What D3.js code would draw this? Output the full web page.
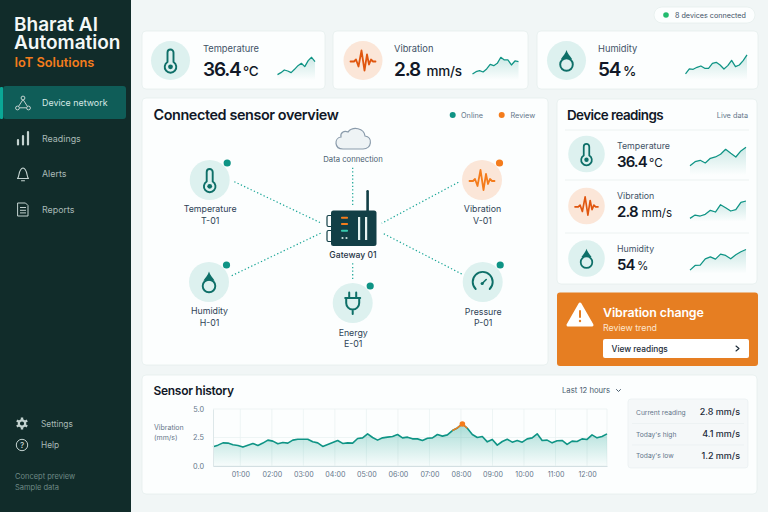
<!DOCTYPE html>
<html>
<head>
<meta charset="utf-8">
<script src="https://d3js.org/d3.v7.min.js"></script>
<style>
  html, body { margin: 0; padding: 0; background: #f1f6f6; }
  svg { display: block; font-family: Inter, "Noto Sans", sans-serif; }
</style>
</head>
<body>
<div id="chart"></div>
<script>
const width = 768, height = 512;

// nav
const navItems = ["Device network", "Readings", "Alerts", "Reports"];
const footItems = ["Settings", "Help"];

// KPI cards
const kpiLabels = ["Temperature", "Vibration", "Humidity"];
const kpiValues = ["36.4", "2.8", "54"];
const kpiUnits = ["°C", "mm/s", "%"];

// sparklines, relative height 0-80
const sparkTempTop = [16, 22, 30, 27, 22, 32, 43, 50, 40, 58, 68, 55];
const sparkVibTop = [18, 25, 28, 24, 33, 47, 43, 50, 68, 60, 60, 45, 57, 55];
const sparkHumTop = [18, 33, 32, 38, 42, 35, 35, 50, 53, 45, 33, 43, 59, 40, 45, 58, 75];
const sparkTempSide = [28, 40, 44, 36, 50, 54, 62, 77, 65, 54, 72, 83];
const sparkVibSide = [10, 20, 17, 22, 34, 29, 51, 42, 32, 36, 58, 62];
const sparkHumSide = [10, 24, 25, 44, 50, 43, 58, 54, 44, 56, 65, 72];

// sensor network
const sensorNames = ["Temperature", "Vibration", "Humidity", "Pressure", "Energy"];
const sensorIds = ["T-01", "V-01", "H-01", "P-01", "E-01"];
const sensorStatus = ["online", "review", "online", "online", "online"];

// history, mm/s, one reading about every 9.5 minutes
const historyValues = [1.69, 1.83, 2.03, 2.01, 1.86, 1.80, 1.66, 1.83, 1.98, 1.80,
  2.01, 2.27, 2.18, 1.95, 2.06, 2.01, 2.27, 2.35, 2.35, 2.35,
  2.12, 2.03, 1.72, 1.89, 2.06, 2.24, 1.98, 2.03, 2.01, 2.41,
  2.47, 2.82, 2.50, 2.27, 2.47, 2.53, 2.59, 2.76, 2.47, 2.53,
  2.38, 2.38, 2.24, 2.44, 2.47, 2.76, 2.62, 2.73, 3.11, 3.34,
  3.69, 3.31, 2.76, 2.50, 2.59, 2.12, 2.33, 1.83, 2.15, 2.35,
  2.09, 2.24, 2.09, 2.38, 2.47, 2.82, 2.24, 2.27, 2.03, 2.21,
  2.24, 1.89, 2.18, 2.15, 2.38, 2.33, 2.73, 2.47, 2.59, 2.82];
const peakIndex = 50;
const yTicks = [0, 2.5, 5];
const xTickHours = [1, 2, 3, 4, 5, 6, 7, 8, 9, 10, 11, 12];
const statLabels = ["Current reading", "Today's high", "Today's low"];
const statValues = ["2.8 mm/s", "4.1 mm/s", "1.2 mm/s"];

const teal = "#0f9485", tealDark = "#0e6f68", orange = "#f47c1c", orangeRed = "#e0560f";
const ink = "#111827", slate = "#3f5266", muted = "#64768a";

const svg = d3.select("#chart").append("svg")
  .attr("width", width).attr("height", height)
  .attr("viewBox", [0, 0, width, height]);

const defs = svg.append("defs");
const fade = defs.append("linearGradient").attr("id", "sparkFill")
  .attr("x1", 0).attr("x2", 0).attr("y1", 0).attr("y2", 1);
fade.append("stop").attr("offset", 0).attr("stop-color", teal).attr("stop-opacity", 0.2);
fade.append("stop").attr("offset", 1).attr("stop-color", teal).attr("stop-opacity", 0);
const fade2 = defs.append("linearGradient").attr("id", "historyFill")
  .attr("x1", 0).attr("x2", 0).attr("y1", 0).attr("y2", 1);
fade2.append("stop").attr("offset", 0).attr("stop-color", "#12a08f").attr("stop-opacity", 0.36);
fade2.append("stop").attr("offset", 1).attr("stop-color", "#12a08f").attr("stop-opacity", 0.02);

const text = (g, x, y, str, size, fill, weight = 400, anchor = "start", spacing = 0) =>
  g.append("text").attr("x", x).attr("y", y).attr("font-size", size)
    .attr("fill", fill).attr("font-weight", weight).attr("text-anchor", anchor)
    .attr("letter-spacing", spacing).text(str);

const panel = (x0, y0, x1, y1, r = 4, fill = "#fcfefe") =>
  svg.append("rect").attr("x", x0).attr("y", y0).attr("width", x1 - x0).attr("height", y1 - y0)
    .attr("rx", r).attr("fill", fill).attr("stroke", "#e6efee").attr("stroke-width", 0.8);

// icons are drawn on a 24x24 box centred on 0,0
const line = (g, d, color, w = 1.8) => g.append("path").attr("d", d).attr("fill", "none")
  .attr("stroke", color).attr("stroke-width", w).attr("stroke-linecap", "round").attr("stroke-linejoin", "round");

const icons = {
  Temperature(g, c) {
    line(g, "M-3,1.5 V-8 A3,3 0 0 1 3,-8 V1.5 A5.8,5.8 0 1 1 -3,1.5 Z", c, 1.9);
    g.append("circle").attr("cy", 6.3).attr("r", 2.4).attr("fill", c);
  },
  Vibration(g, c) {
    line(g, "M-12.5,1 H-9 L-7,-1 L-4.5,6 L-1.5,-10 L1.5,10 L4,-6 L6,4 L8,-1 L10,1 H12.5", c, 1.8);
  },
  Humidity(g, c) {
    g.append("circle").attr("cy", 4).attr("r", 6.3).attr("fill", "none").attr("stroke", c).attr("stroke-width", 1.9);
    g.append("path").attr("d", "M0,-10.5 C1,-7 3.5,-4.5 5.5,-1.5 L-5.5,-1.5 C-3.5,-4.5 -1,-7 0,-10.5 Z").attr("fill", c);
  },
  Pressure(g, c) {
    line(g, "M-7,7 A10,10 0 1 1 7,7", c, 1.9);
    line(g, "M-0.5,1.5 L3.5,-2.5", c, 1.6);
    g.append("circle").attr("cx", -0.5).attr("cy", 1.5).attr("r", 1.6).attr("fill", c);
  },
  Energy(g, c) {
    line(g, "M-3.5,-10.5 V-5 M3.5,-10.5 V-5 M-7.5,-5 H7.5 M-6.5,-5 V0 A6.5,6.5 0 0 0 6.5,0 V-5 M0,6.5 V11", c, 2);
  }
};

// sidebar
svg.append("rect").attr("width", 131).attr("height", height).attr("fill", "#112c2a");
const brand = svg.append("text").attr("font-size", 19).attr("font-weight", 600).attr("fill", "#f4f8f7");
brand.append("tspan").attr("x", 14).attr("y", 30.5).text("Bharat AI");
brand.append("tspan").attr("x", 14).attr("y", 48.5).text("Automation");
text(svg, 14.5, 67, "IoT Solutions", 12.8, orange, 600);

svg.append("rect").attr("x", 3).attr("y", 86).attr("width", 123).attr("height", 33).attr("rx", 3).attr("fill", "#0f5d58");
svg.append("rect").attr("x", 0).attr("y", 87).attr("width", 3).attr("height", 32).attr("rx", 1).attr("fill", "#0aa896");

const navY = d3.scalePoint().domain(navItems).range([103, 209.5]);
navItems.forEach((name, i) => {
  text(svg, 42, navY(name) + 3.2, name, 8.9, i === 0 ? "#d5e9e6" : "#a9bab7");
});
const navStroke = "#c4d3d0";
const nav0 = svg.append("g").attr("transform", "translate(23,103)");
line(nav0, "M0,-3.5 L-4.5,3.5 M0,-3.5 L4.5,3.5 M-3,4.8 H3", navStroke, 1);
[[0, -5], [-5.5, 5], [5.5, 5]].forEach(p => nav0.append("circle").attr("cx", p[0]).attr("cy", p[1]).attr("r", 1.9)
  .attr("fill", "#0f5d58").attr("stroke", navStroke).attr("stroke-width", 1));
const nav1 = svg.append("g").attr("transform", "translate(23,138)");
line(nav1, "M-5,6.5 V2 M0,6.5 V-2 M5,6.5 V-6", navStroke, 2.2);
const nav2 = svg.append("g").attr("transform", "translate(23,174)");
line(nav2, "M-5.5,4.5 C-3.5,3 -4.5,-5.5 0,-6 C4.5,-5.5 3.5,3 5.5,4.5 Z M-1.5,6.8 H1.5", navStroke, 1.1);
const nav3 = svg.append("g").attr("transform", "translate(23,209.5)");
line(nav3, "M-5,-6.5 H2.5 L5,-4 V6.5 H-5 Z M-2.6,-2 H2.6 M-2.6,0.8 H2.6 M-2.6,3.4 H2.6", navStroke, 1);

const footY = [423.5, 445];
footItems.forEach((name, i) => text(svg, 41, footY[i] + 3, name, 8.3, "#a9bab7"));
const gear = svg.append("g").attr("transform", `translate(22,${footY[0]})`);
gear.append("circle").attr("r", 3.2).attr("fill", "none").attr("stroke", navStroke).attr("stroke-width", 2.2);
d3.range(6).forEach(i => gear.append("rect").attr("x", -1.2).attr("y", -6).attr("width", 2.4).attr("height", 2.4)
  .attr("fill", navStroke).attr("transform", `rotate(${i * 60})`));
const helpIcon = svg.append("g").attr("transform", `translate(22,${footY[1]})`);
helpIcon.append("circle").attr("r", 5.7).attr("fill", "none").attr("stroke", navStroke).attr("stroke-width", 1);
text(helpIcon, 0, 3, "?", 8, navStroke, 500, "middle");
text(svg, 15, 479, "Concept preview", 7.5, "#6f8a86");
text(svg, 15, 490, "Sample data", 7.5, "#6f8a86");

// connected pill
svg.append("rect").attr("x", 654).attr("y", 7).attr("width", 101).attr("height", 16).attr("rx", 8)
  .attr("fill", "#fcfefe").attr("stroke", "#e6efee").attr("stroke-width", 0.8);
svg.append("circle").attr("cx", 666).attr("cy", 15).attr("r", 2.8).attr("fill", "#22bb6e");
text(svg, 675, 17.7, "8 devices connected", 7.2, "#3f5266");

const spark = (values, x0, x1, base) => {
  const x = d3.scaleLinear().domain([0, values.length - 1]).range([x0, x1]);
  const y = d3.scaleLinear().domain([0, 80]).range([base, base - 26.7]);
  svg.append("path").datum(values).attr("fill", "url(#sparkFill)")
    .attr("d", d3.area().x((d, i) => x(i)).y0(base).y1(d => y(d)));
  svg.append("path").datum(values).attr("fill", "none").attr("stroke", teal).attr("stroke-width", 1.25)
    .attr("stroke-linejoin", "round")
    .attr("d", d3.line().x((d, i) => x(i)).y(d => y(d)));
};

const iconBadge = (cx, cy, r, name, scale, reviewColor = orangeRed) => {
  const review = name === "Vibration";
  svg.append("circle").attr("cx", cx).attr("cy", cy).attr("r", r).attr("fill", review ? "#fbe6d8" : "#ddf1ef");
  const g = svg.append("g").attr("transform", `translate(${cx},${cy}) scale(${scale})`);
  icons[name](g, review ? reviewColor : tealDark);
};

// KPI cards
const kpiBoxes = [[142, 325], [333, 528], [537, 758]];
const kpiCx = [170.5, 363, 566.5];
const kpiTextX = [203, 394, 598];
const kpiUnitX = [243, 426.5, 623];
kpiLabels.forEach((name, i) => {
  panel(kpiBoxes[i][0], 31, kpiBoxes[i][1], 89);
  iconBadge(kpiCx[i], 60.5, 19.5, name, 1);
  text(svg, kpiTextX[i], 52.3, name, 9.3, slate);
  text(svg, kpiTextX[i], 75.5, kpiValues[i], 19, ink, 600, "start", -1.2);
  text(svg, kpiUnitX[i], 75.5, kpiUnits[i], 13.5, ink, 500, "start", -0.2);
});
spark(sparkTempTop, 277.5, 315, 80);
spark(sparkVibTop, 472.5, 518.5, 80);
spark(sparkHumTop, 685.5, 747, 80);

// overview panel
panel(142, 98, 548, 365);
text(svg, 153.5, 120, "Connected sensor overview", 14.4, ink, 600, "start", -0.4);
svg.append("circle").attr("cx", 452.7).attr("cy", 115).attr("r", 3).attr("fill", teal);
text(svg, 461, 117.6, "Online", 7.3, muted);
svg.append("circle").attr("cx", 501.7).attr("cy", 115).attr("r", 3).attr("fill", orange);
text(svg, 510.5, 117.6, "Review", 7.3, muted);

// links gateway to sensors
const linkEnds = [
  [234.3, 181.7, 321.7, 223.3],
  [458.3, 182.3, 381.7, 223.3],
  [231.7, 275.7, 321.7, 232.7],
  [461.7, 274, 381.7, 232.7],
  [352.7, 167.7, 352.7, 206.7],
  [352.7, 263.3, 352.7, 280]
];
svg.append("g").selectAll("line").data(linkEnds).join("line")
  .attr("x1", d => d[0]).attr("y1", d => d[1]).attr("x2", d => d[2]).attr("y2", d => d[3])
  .attr("stroke", "#18a596").attr("stroke-width", 1.2).attr("stroke-dasharray", "1.3 2.3");

// nodes
const nodeCx = [209.7, 482, 209, 482.7, 352.7];
const nodeCy = [180, 180, 282, 282, 303];
const labelY = [212, 212, 314, 314.5, 335.5];
sensorNames.forEach((name, i) => {
  iconBadge(nodeCx[i], nodeCy[i], 20, name, 1, orange);
  svg.append("circle").attr("cx", nodeCx[i] + 17.5).attr("cy", nodeCy[i] - 17)
    .attr("r", 3.6).attr("fill", sensorStatus[i] === "online" ? teal : orange);
  text(svg, nodeCx[i] + 0.5, labelY[i], name, 8.8, "#2e4356", 400, "middle");
  text(svg, nodeCx[i] + 0.5, labelY[i] + 11.7, sensorIds[i], 8.8, "#2e4356", 400, "middle");
});

// cloud
const cloud = svg.append("g").attr("transform", "translate(353,139)");
cloud.append("path").attr("d", "M-10,10 H10 C19,10 20,-2 12,-3 C11,-11 0,-13 -5,-7 C-9,-9 -13,-6 -12,-2 C-19,-1 -19,10 -10,10 Z")
  .attr("fill", "#eef3f5").attr("stroke", "#8a9bab").attr("stroke-width", 1.2);
text(svg, 353, 161.5, "Data connection", 7.7, "#4a5d70", 400, "middle");

// gateway
const gw = svg.append("g");
const gwColor = "#123f46";
gw.append("rect").attr("x", 366.3).attr("y", 190).attr("width", 2.6).attr("height", 24).attr("rx", 1.2).attr("fill", gwColor);
gw.append("rect").attr("x", 327).attr("y", 215.5).attr("width", 6).attr("height", 11).attr("rx", 1.5).attr("fill", "#fcfefe").attr("stroke", gwColor).attr("stroke-width", 1.2);
gw.append("rect").attr("x", 327).attr("y", 230.5).attr("width", 6).attr("height", 11).attr("rx", 1.5).attr("fill", "#fcfefe").attr("stroke", gwColor).attr("stroke-width", 1.2);
gw.append("rect").attr("x", 331).attr("y", 210.5).attr("width", 45.5).attr("height", 35.5).attr("rx", 2.5).attr("fill", gwColor);
[[341, orange, 216.8], [341, orange, 223], [341, "#38c9ae", 229.7]].forEach(d =>
  gw.append("rect").attr("x", d[0]).attr("y", d[2]).attr("width", 7).attr("height", 2).attr("rx", 0.8).attr("fill", d[1]));
[342.5, 346.5].forEach(x => gw.append("circle").attr("cx", x).attr("cy", 238).attr("r", 1.1).attr("fill", "#cfe3e0"));
[358, 365].forEach(x => gw.append("rect").attr("x", x).attr("y", 217).attr("width", 2.2).attr("height", 23).attr("fill", "#e6f2f0"));
text(svg, 353, 258, "Gateway 01", 8.6, "#1f3344", 500, "middle");

// device readings
panel(557, 99, 757, 284);
text(svg, 567, 120, "Device readings", 13.4, ink, 600, "start", -0.55);
text(svg, 748, 117.5, "Live data", 7.3, muted, 400, "end");
[130, 180, 233].forEach(y => svg.append("line").attr("x1", 565).attr("x2", 749).attr("y1", y).attr("y2", y)
  .attr("stroke", "#e9f0ef").attr("stroke-width", 0.8));
const readCy = [154, 206, 258.5];
const readLabelY = [148.5, 199, 252];
const readValueY = [166.5, 217, 270];
const readUnitX = [649, 641.5, 637];
kpiLabels.forEach((name, i) => {
  iconBadge(586.5, readCy[i], 18.3, name, 0.92);
  text(svg, 617, readLabelY[i], name, 8.8, slate);
  text(svg, 617, readValueY[i], kpiValues[i], 15, ink, 600, "start", -0.9);
  text(svg, readUnitX[i], readValueY[i], kpiUnits[i], 11.6, ink, 400);
});
spark(sparkTempSide, 690, 746, 175);
spark(sparkVibSide, 690, 746, 221.7);
spark(sparkHumSide, 690, 746, 273.5);

// alert
svg.append("rect").attr("x", 557).attr("y", 292.5).attr("width", 201).attr("height", 73.5).attr("rx", 3).attr("fill", "#e67e22");
svg.append("path").attr("d", "M580,304 L592,325 H568 Z").attr("fill", "#fff").attr("stroke", "#fff")
  .attr("stroke-width", 3).attr("stroke-linejoin", "round");
svg.append("rect").attr("x", 579).attr("y", 310).attr("width", 2).attr("height", 8).attr("rx", 1).attr("fill", "#e67e22");
svg.append("circle").attr("cx", 580).attr("cy", 321).attr("r", 1.2).attr("fill", "#e67e22");
text(svg, 603, 316.5, "Vibration change", 12.4, "#fff", 600, "start", -0.1);
text(svg, 603, 331, "Review trend", 8.8, "#fde6d0");
svg.append("rect").attr("x", 603).attr("y", 339).attr("width", 146).attr("height", 19).attr("rx", 2).attr("fill", "#fff");
text(svg, 611.5, 351.5, "View readings", 8.3, "#1c2b38", 500);
line(svg, "M736,346 L739,348.5 L736,351", "#1c2b38", 1.1);

// history panel
panel(142, 375, 757, 494);
text(svg, 153.5, 395, "Sensor history", 12, ink, 600, "start", -0.3);
text(svg, 562, 393, "Last 12 hours", 7.7, "#4a5d70");
line(svg, "M616.5,389.5 L618.5,391.5 L620.5,389.5", "#4a5d70", 1);
text(svg, 154, 429.5, "Vibration", 7, muted);
text(svg, 154, 439.5, "(mm/s)", 7, muted);

const plot = { left: 213, right: 607, top: 409, bottom: 466 };
const hourAt = h => new Date(2024, 0, 1, h, 0);
const start = new Date(2024, 0, 1, 0, 8.7), end = new Date(2024, 0, 1, 12, 38);
const xTime = d3.scaleTime().domain([start, end]).range([plot.left, plot.right]);
const yVib = d3.scaleLinear().domain([0, 5]).range([plot.bottom, plot.top]);
const xIndex = d3.scaleLinear().domain([0, historyValues.length - 1]).range([start, end].map(xTime));

const grid = svg.append("g").attr("stroke", "#e8f0f1").attr("stroke-width", 0.7);
grid.selectAll(".gx").data(xTickHours).join("line").attr("class", "gx")
  .attr("x1", d => xTime(hourAt(d))).attr("x2", d => xTime(hourAt(d)))
  .attr("y1", plot.top).attr("y2", plot.bottom);
grid.selectAll(".gy").data(yTicks).join("line").attr("class", "gy")
  .attr("x1", plot.left).attr("x2", plot.right).attr("y1", d => yVib(d)).attr("y2", d => yVib(d));
grid.append("line").attr("x1", plot.right).attr("x2", plot.right).attr("y1", plot.top).attr("y2", plot.bottom);

svg.append("path").datum(historyValues).attr("fill", "url(#historyFill)")
  .attr("d", d3.area().x((d, i) => xIndex(i)).y0(plot.bottom).y1(d => yVib(d)));
const historyLine = d3.line().x(d => xIndex(d[0])).y(d => yVib(d[1]));
const indexed = historyValues.map((v, i) => [i, v]);
svg.append("path").datum(indexed).attr("fill", "none").attr("stroke", teal).attr("stroke-width", 1.6)
  .attr("stroke-linejoin", "round").attr("d", historyLine);
svg.append("path").datum(indexed.slice(peakIndex - 2, peakIndex + 2)).attr("fill", "none")
  .attr("stroke", orange).attr("stroke-width", 1.5).attr("d", historyLine);
svg.append("circle").attr("cx", xIndex(peakIndex)).attr("cy", yVib(historyValues[peakIndex])).attr("r", 2.8).attr("fill", orange);

const xAxis = svg.append("g").attr("transform", `translate(0,${plot.bottom})`)
  .call(d3.axisBottom(xTime).tickValues(xTickHours.map(hourAt)).tickFormat(d3.timeFormat("%H:%M")).tickSize(0).tickPadding(6));
xAxis.select(".domain").attr("stroke", "#d3dfe2");
xAxis.selectAll("text").attr("font-size", 7.1).attr("font-family", "Inter").attr("fill", muted);
const yAxis = svg.append("g").attr("transform", `translate(${plot.left},0)`)
  .call(d3.axisLeft(yVib).tickValues(yTicks).tickFormat(d3.format(".1f")).tickSize(0).tickPadding(9));
yAxis.select(".domain").attr("stroke", "#dde7e9");
yAxis.selectAll("text").attr("font-size", 7.3).attr("font-family", "Inter").attr("fill", muted);

// stats box
svg.append("rect").attr("x", 628).attr("y", 399).attr("width", 120).attr("height", 69).attr("rx", 3)
  .attr("fill", "#f5f8f9").attr("stroke", "#e9eff0").attr("stroke-width", 0.7);
[423.5, 445].forEach(y => svg.append("line").attr("x1", 632).attr("x2", 744).attr("y1", y).attr("y2", y)
  .attr("stroke", "#e9eff0").attr("stroke-width", 0.7));
[412, 434, 455.5].forEach((y, i) => {
  text(svg, 636, y + 2.5, statLabels[i], 6.7, muted);
  text(svg, 740, y + 3, statValues[i], 9, "#1d2b3a", 500, "end");
});
</script>
</body>
</html>
